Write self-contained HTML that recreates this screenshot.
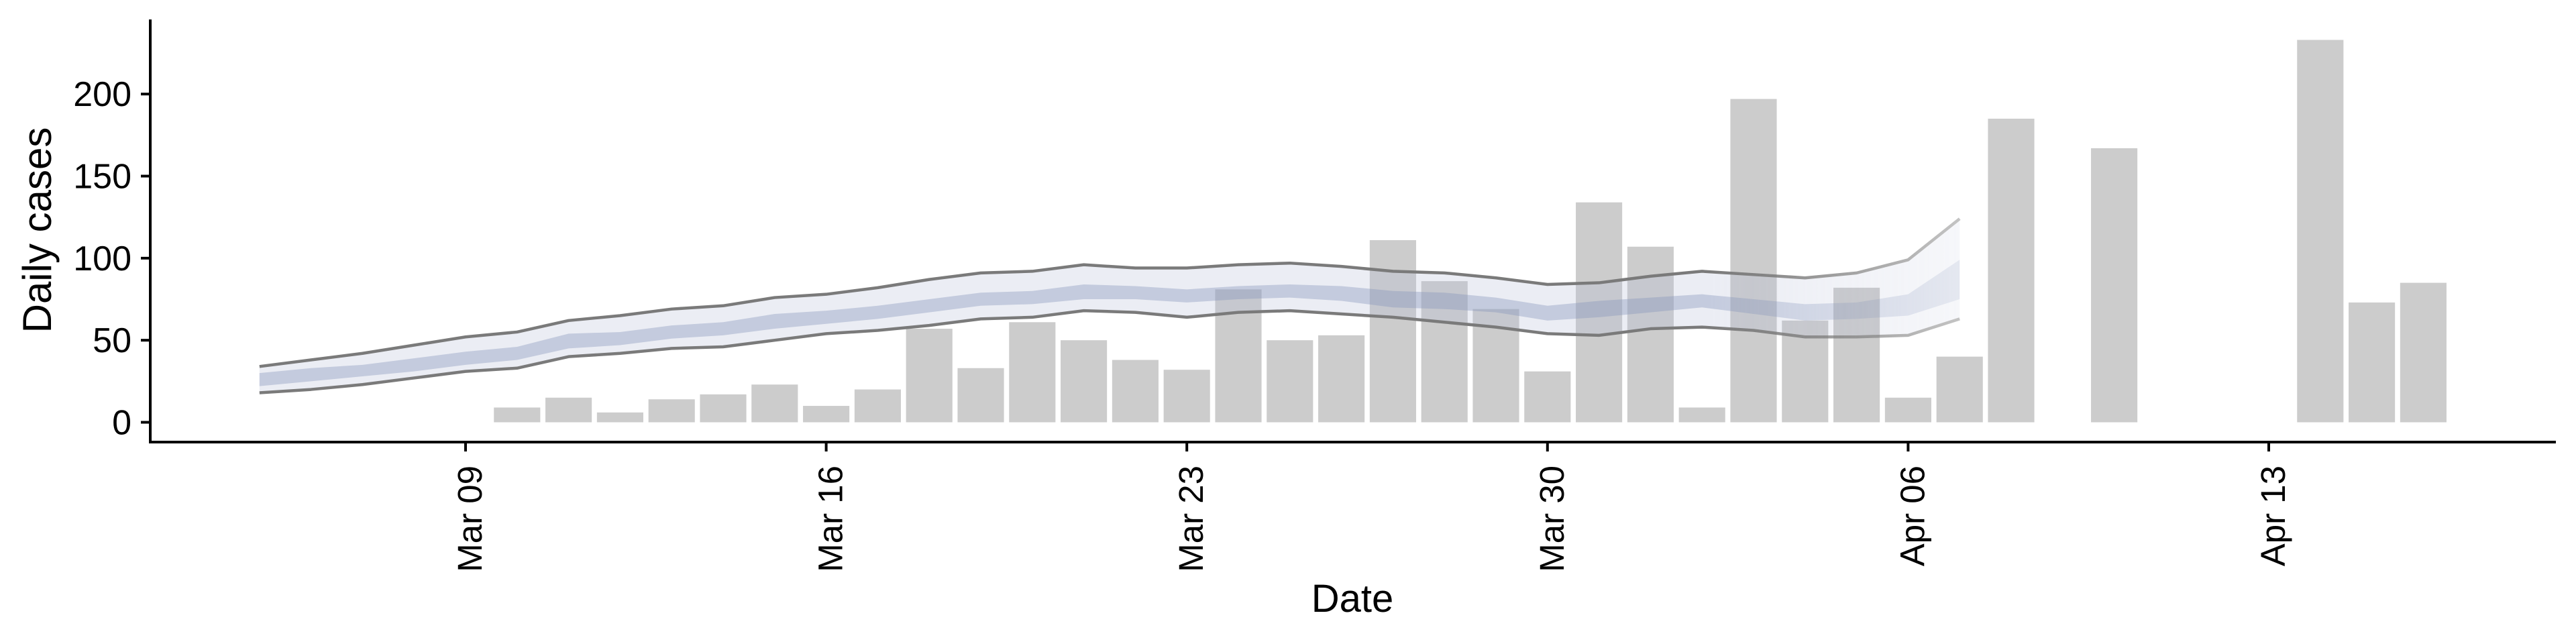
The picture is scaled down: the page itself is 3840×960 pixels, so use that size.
<!DOCTYPE html>
<html><head><meta charset="utf-8"><style>
html,body{margin:0;padding:0;background:#fff}
svg{display:block;font-family:"Liberation Sans",Arial,sans-serif}
</style></head><body>
<svg id="chart" width="3840" height="960" viewBox="0 0 3840 960" xmlns="http://www.w3.org/2000/svg">
<defs>
<linearGradient id="fade" gradientUnits="userSpaceOnUse" x1="2550" y1="0" x2="2921" y2="0">
<stop offset="0" stop-opacity="1" stop-color="#fff"/><stop offset="1" stop-opacity="0.45" stop-color="#fff"/>
</linearGradient>
<mask id="fadeMask"><rect x="0" y="0" width="3840" height="960" fill="url(#fade)"/></mask>
</defs>
<g id="bars"></g>
<g id="ribbon" mask="url(#fadeMask)"></g>
<g id="axes"></g>
</svg>
<script>
const barDates = ["03-10","03-11","03-12","03-13","03-14","03-15","03-16","03-17","03-18","03-19","03-20","03-21","03-22","03-23","03-24","03-25","03-26","03-27","03-28","03-29","03-30","03-31","04-01","04-02","04-03","04-04","04-05","04-06","04-07","04-08","04-10","04-14","04-15","04-16"];
const barValues = [9,15,6,14,17,23,10,20,57,33,61,50,38,32,81,50,53,111,86,69,31,134,107,9,197,62,82,15,40,185,167,233,73,85];
const ribbonStart = "03-05";
const outerUpper = [34,38,42,47,52,55,62,65,69,71,76,78,82,87,91,92,96,94,94,96,97,95,92,91,88,84,85,89,92,90,88,91,99,124];
const outerLower = [18,20,23,27,31,33,40,42,45,46,50,54,56,59,63,64,68,67,64,67,68,66,64,61,58,54,53,57,58,56,52,52,53,63];
const innerUpper = [30,33,35,39,43,46,54,55,59,61,66,68,71,75,79,80,84,83,81,83,84,83,80,79,76,71,74,76,78,75,72,73,78,99];
const innerLower = [22,25,28,31,35,38,45,47,51,53,57,60,63,67,71,72,75,75,73,75,76,74,70,69,67,62,64,67,70,66,62,63,65,75];
const yTicks = [0,50,100,150,200];
const xTickDates = ["03-09","03-16","03-23","03-30","04-06","04-13"];
const xTickLabels = ["Mar 09","Mar 16","Mar 23","Mar 30","Apr 06","Apr 13"];

const NS = "http://www.w3.org/2000/svg";
function dayIndex(md){const [m,d]=md.split("-").map(Number);return (m===3?d:31+d);}
const X0 = 694, DAY = 76.8, REF = dayIndex("03-09");
function xScale(md){return X0 + (dayIndex(md)-REF)*DAY;}
function xDay(i){return X0 + i*DAY;}
const Y0 = 629.5, UNIT = 2.4465;
function yScale(v){return Y0 - v*UNIT;}
function mk(tag, attrs, parent){const e=document.createElementNS(NS,tag);for(const k in attrs)e.setAttribute(k,attrs[k]);parent.appendChild(e);return e;}

const gb = document.getElementById("bars");
barDates.forEach((d,i)=>{
  const cx = xScale(d), w = DAY*0.9;
  const r = mk("rect",{x:cx-w/2,y:yScale(barValues[i]),width:w,height:Y0-yScale(barValues[i]),fill:"#cccccc"},gb);
  
  
});

const gr = document.getElementById("ribbon");
const s0 = dayIndex(ribbonStart)-REF;
function band(up, lo){
  let p = up.map((v,i)=>(i?"L":"M")+xDay(s0+i)+","+yScale(v)).join("");
  for(let i=lo.length-1;i>=0;i--) p += "L"+xDay(s0+i)+","+yScale(lo[i]);
  return p+"Z";
}
function line(arr){return arr.map((v,i)=>(i?"L":"M")+xDay(s0+i)+","+yScale(v)).join("");}
const ob = mk("path",{d:band(outerUpper,outerLower),fill:"#b4bdd6","fill-opacity":"0.27"},gr);


const ib = mk("path",{d:band(innerUpper,innerLower),fill:"#8393b8","fill-opacity":"0.38"},gr);


const ul = mk("path",{d:line(outerUpper),fill:"none",stroke:"#7a7a7a","stroke-width":"4.5","stroke-linejoin":"round"},gr);


const ll = mk("path",{d:line(outerLower),fill:"none",stroke:"#7a7a7a","stroke-width":"4.5","stroke-linejoin":"round"},gr);



const ga = document.getElementById("axes");
const ya = mk("line",{x1:224,y1:29,x2:224,y2:661,stroke:"#000","stroke-width":"4"},ga);


const xa = mk("line",{x1:222,y1:659,x2:3810,y2:659,stroke:"#000","stroke-width":"4"},ga);


yTicks.forEach(v=>{
  const y=yScale(v);
  const t = mk("line",{x1:210,y1:y,x2:224,y2:y,stroke:"#000","stroke-width":"4"},ga);
  
  
  const tx = mk("text",{x:196,y:y+18,"text-anchor":"end","font-size":"52",fill:"#000"},ga);
  tx.textContent = v;
  
  
});
xTickDates.forEach((d,i)=>{
  const x=xScale(d);
  const t = mk("line",{x1:x,y1:659,x2:x,y2:673,stroke:"#000","stroke-width":"4"},ga);
  
  
  const tx = mk("text",{x:0,y:0,"text-anchor":"end","font-size":"51",fill:"#000",transform:"translate("+(x+24)+",694) rotate(-90)"},ga);
  tx.textContent = xTickLabels[i];
  
  
});
const xt = mk("text",{x:2016,y:912,"text-anchor":"middle","font-size":"58",fill:"#000"},ga);
xt.textContent = "Date";


const yt = mk("text",{x:0,y:0,"text-anchor":"middle","font-size":"60",fill:"#000",transform:"translate(76,343) rotate(-90)"},ga);
yt.textContent = "Daily cases";


</script>
</body></html>
